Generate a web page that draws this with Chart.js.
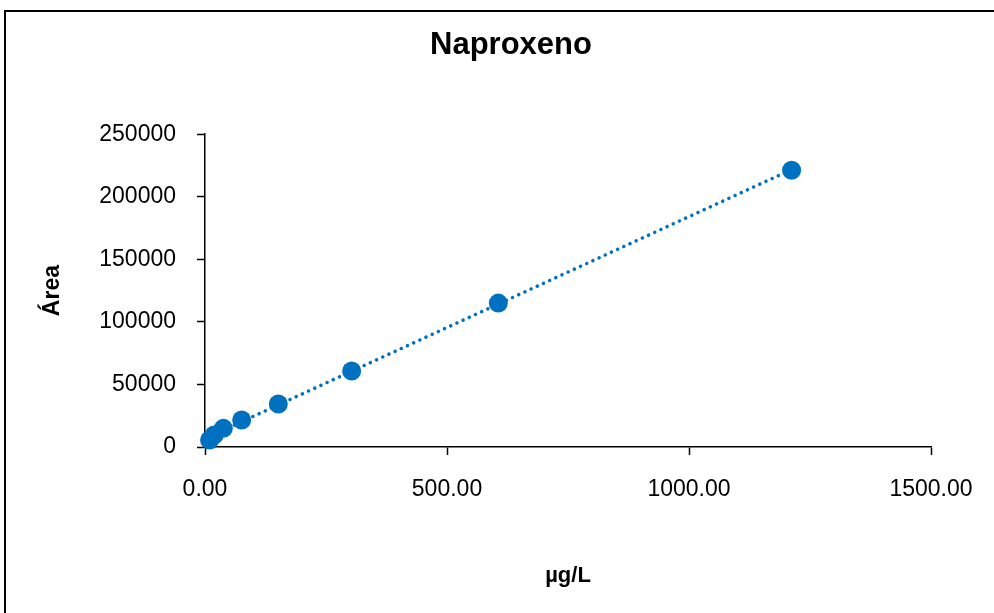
<!DOCTYPE html>
<html>
<head>
<meta charset="utf-8">
<script src="https://cdn.jsdelivr.net/npm/chart.js@4"></script>
<style>
  html, body { margin: 0; padding: 0; background: #fff; }
  #wrap { position: relative; width: 994px; height: 613px; }
  #frame {
    position: absolute; left: 4px; top: 10px; right: 0; bottom: 0;
    border-left: 2px solid #000; border-top: 2px solid #000;
    pointer-events: none;
  }
</style>
</head>
<body>
<div id="wrap">
  <canvas id="chart" width="994" height="613"></canvas>
  <div id="frame"></div>
</div>
<script>
// concentration (µg/L) and peak area
var concentrations = [9.47, 18.94, 37.88, 75.75, 151.5, 303, 606, 1212];
var areas = [5600, 9600, 14900, 21600, 34300, 60700, 115000, 221200];
var xTicks = [0, 500, 1000, 1500];
var yTicks = [0, 50000, 100000, 150000, 200000, 250000];

var blue = "#0070C0";
var fontFamily = "'Liberation Sans', Arial, sans-serif";

// linear trendline, same as the spreadsheet's least-squares fit
function linearFit(xs, ys) {
    var n = xs.length, sx = 0, sy = 0, sxy = 0, sxx = 0;
    for (var i = 0; i < n; i++) {
        sx += xs[i]; sy += ys[i];
        sxy += xs[i] * ys[i]; sxx += xs[i] * xs[i];
    }
    var slope = (n * sxy - sx * sy) / (n * sxx - sx * sx);
    return { slope: slope, intercept: (sy - slope * sx) / n };
}

var fit = linearFit(concentrations, areas);
var xMin = Math.min.apply(null, concentrations);
var xMax = Math.max.apply(null, concentrations);
var trendPoints = [xMin, xMax].map(function (x) {
    return { x: x, y: fit.slope * x + fit.intercept };
});

var points = concentrations.map(function (c, i) {
    return { x: c, y: areas[i] };
});

var ctx = document.getElementById('chart').getContext('2d');

var myChart = new Chart(ctx, {
    type: 'scatter',
    data: {
        datasets: [{
            label: 'Naproxeno',
            data: points,
            backgroundColor: blue,
            borderColor: blue,
            pointRadius: 9.5,
            pointBorderWidth: 0,
            clip: false,
            order: 2
        }, {
            label: 'Lineal',
            data: trendPoints,
            showLine: true,
            borderColor: blue,
            borderWidth: 3.5,
            borderDash: [0.1, 6.7],
            borderCapStyle: 'round',
            pointRadius: 0,
            fill: false,
            clip: false,
            order: 1
        }]
    },
    options: {
        responsive: false,
        animation: false,
        layout: { padding: { left: 28, right: 0, top: 0, bottom: 0 } },
        plugins: {
            legend: { display: false },
            tooltip: { enabled: false },
            title: {
                display: true,
                text: 'Naproxeno',
                color: '#000',
                font: { family: fontFamily, size: 31, weight: 'bold' },
                padding: { top: 27, bottom: 70 }
            }
        },
        scales: {
            x: {
                type: 'linear',
                min: 0,
                max: 1500,
                afterBuildTicks: function (scale) {
                    scale.ticks = xTicks.map(function (v) { return { value: v }; });
                },
                afterFit: function (scale) { scale.height = 166; },
                ticks: {
                    color: '#000',
                    padding: 21,
                    maxRotation: 0,
                    font: { family: fontFamily, size: 23 },
                    callback: function (v) { return v.toFixed(2); }
                },
                grid: {
                    drawOnChartArea: false,
                    drawTicks: true,
                    tickLength: 8,
                    tickColor: '#000',
                    tickWidth: 1.5
                },
                border: { display: true, color: '#000', width: 1.5 },
                title: {
                    display: true,
                    text: 'µg/L',
                    color: '#000',
                    font: { family: fontFamily, size: 22, weight: 'bold' },
                    padding: { top: 0, bottom: 24 }
                }
            },
            y: {
                type: 'linear',
                min: 0,
                max: 250000,
                afterBuildTicks: function (scale) {
                    scale.ticks = yTicks.map(function (v) { return { value: v }; });
                },
                afterFit: function (scale) { scale.width = 177; },
                ticks: {
                    color: '#000',
                    padding: 21,
                    font: { family: fontFamily, size: 23 },
                    callback: function (v) { return String(v); }
                },
                grid: {
                    drawOnChartArea: false,
                    drawTicks: true,
                    tickLength: 8,
                    tickColor: '#000',
                    tickWidth: 1.5
                },
                border: { display: true, color: '#000', width: 1.5 },
                title: {
                    display: true,
                    text: 'Área',
                    color: '#000',
                    font: { family: fontFamily, size: 23, weight: 'bold' },
                    padding: { top: 11, bottom: 0 }
                }
            },
            // empty right-hand space, as in the original sheet
            yRight: {
                type: 'linear',
                position: 'right',
                display: true,
                afterFit: function (scale) { scale.width = 63; },
                ticks: { display: false },
                grid: { display: false },
                border: { display: false }
            }
        }
    }
});
</script>
</body>
</html>
